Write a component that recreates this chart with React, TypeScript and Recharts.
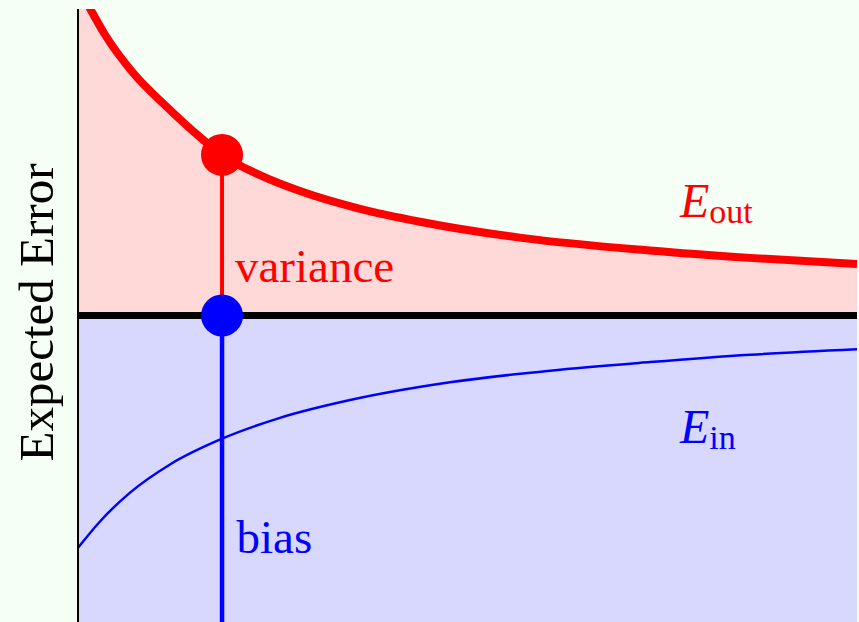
import React from 'react';
import {
  ComposedChart,
  Area,
  Line,
  XAxis,
  YAxis,
  ReferenceLine,
  ReferenceArea,
  ReferenceDot,
} from 'recharts';

// ---- data (x: model complexity / sample size, 0..100; y: expected error, 0..100) ----
const eOutX = [0, 1.67, 3.47, 7.06, 11.43, 15.66, 18.49, 23.36, 28.5, 36.2, 43.9, 56.7, 73.4, 86.3, 100];
const eOutY = [103.8, 99.8, 95.8, 89.6, 84.0, 79.1, 76.2, 72.9, 70.3, 67.4, 65.3, 62.7, 60.6, 59.4, 58.4];
const eInX = [0, 2.82, 6.68, 11.81, 18.49, 25.93, 34.92, 47.75, 60.59, 73.43, 86.26, 100];
const eInY = [12.1, 16.4, 21.1, 25.7, 29.9, 33.3, 36.2, 39.1, 41.0, 42.4, 43.6, 44.5];
const biasLevel = 50;
const markerX = 18.49;
const eOutAtMarker = 76.2;

const yAxisTitle = 'Expected Error';
const varianceText = 'variance';
const biasText = 'bias';
const eOutSub = 'out';
const eInSub = 'in';

// annotation anchors (data units)
const varianceAnchor = { x: 20.15, y: 55.5 };
const biasAnchor = { x: 20.35, y: 11.26 };
const eOutAnchor = { x: 77.28, y: 66.1 };
const eInAnchor = { x: 77.28, y: 29.2 };

const eOutData = eOutX.map((x, i) => ({ x, y: eOutY[i] }));
const eInData = eInX.map((x, i) => ({ x, y: eInY[i] }));

const FONT = 'Liberation Serif';
const RED = '#ff0000';
const BLUE = '#0000ff';

const plainText = (text: string, color: string, size: number) => (p: any) => (
  <text x={p.cx} y={p.cy} fill={color} fontFamily={FONT} fontSize={size}>
    {text}
  </text>
);

const subText = (sub: string, color: string) => (p: any) => (
  <text x={p.cx} y={p.cy} fill={color} fontFamily={FONT} fontSize={48}>
    <tspan fontStyle="italic" fontSize={48}>E</tspan>
    <tspan fontSize={34} dy={6}>{sub}</tspan>
  </text>
);

const YTitle = (props: any) => {
  const vb = props.viewBox || { x: 0, y: 9, width: 78, height: 613 };
  const cx = vb.x + 53;
  const cy = vb.y + vb.height / 2 - 3;
  return (
    <text
      transform={`translate(${cx},${cy}) rotate(-90)`}
      textAnchor="middle"
      fill="#000"
      fontFamily={FONT}
      fontSize={49}
    >
      {yAxisTitle}
    </text>
  );
};

export default function App() {
  return (
    <div style={{ position: 'absolute', left: 0, top: 0, width: 859, height: 622, background: '#f5fff5' }}>
      <ComposedChart width={859} height={622} margin={{ top: 9, right: 2, bottom: 0, left: 0 }}>
        <XAxis type="number" dataKey="x" domain={[0, 100]} hide allowDataOverflow />
        <YAxis
          type="number"
          dataKey="y"
          domain={[0, 100]}
          allowDataOverflow
          width={78}
          tick={false}
          tickLine={false}
          axisLine={{ stroke: '#000', strokeWidth: 2 }}
          label={<YTitle />}
        />
        <ReferenceArea x1={0} x2={100} y1={0} y2={biasLevel} fill="#d8d8ff" fillOpacity={1} stroke="none" />
        <Area
          data={eOutData}
          dataKey="y"
          type="monotone"
          baseValue={biasLevel}
          fill="#ffd8d8"
          fillOpacity={1}
          stroke={RED}
          strokeWidth={8}
          isAnimationActive={false}
          dot={false}
          activeDot={false}
        />
        <Line
          data={eInData}
          dataKey="y"
          type="monotone"
          stroke={BLUE}
          strokeWidth={2.5}
          dot={false}
          activeDot={false}
          isAnimationActive={false}
        />
        <ReferenceLine y={biasLevel} stroke="#000" strokeWidth={7} />
        <ReferenceLine
          segment={[{ x: markerX, y: biasLevel }, { x: markerX, y: eOutAtMarker }]}
          stroke={RED}
          strokeWidth={4}
        />
        <ReferenceLine
          segment={[{ x: markerX, y: 0 }, { x: markerX, y: biasLevel }]}
          stroke={BLUE}
          strokeWidth={4.5}
        />
        <ReferenceDot x={markerX} y={eOutAtMarker} r={21} fill={RED} stroke="none" />
        <ReferenceDot x={markerX} y={biasLevel} r={21} fill={BLUE} stroke="none" />
        <ReferenceDot x={varianceAnchor.x} y={varianceAnchor.y} shape={plainText(varianceText, RED, 47)} />
        <ReferenceDot x={biasAnchor.x} y={biasAnchor.y} shape={plainText(biasText, BLUE, 47)} />
        <ReferenceDot x={eOutAnchor.x} y={eOutAnchor.y} shape={subText(eOutSub, RED)} />
        <ReferenceDot x={eInAnchor.x} y={eInAnchor.y} shape={subText(eInSub, BLUE)} />
      </ComposedChart>
    </div>
  );
}
